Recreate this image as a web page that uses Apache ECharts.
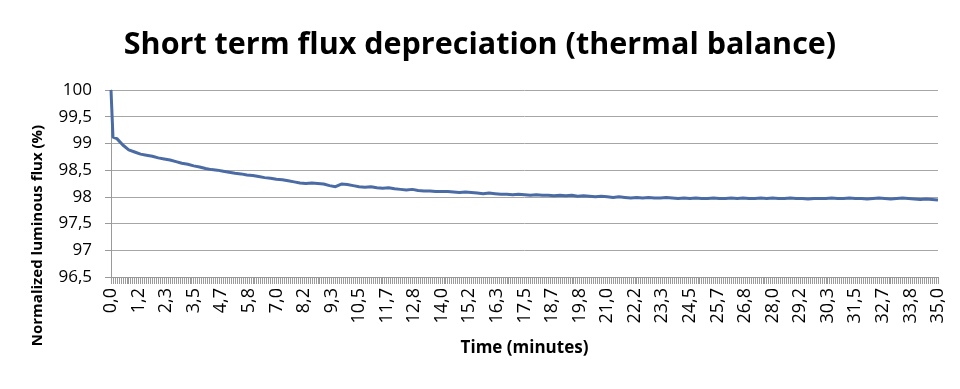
<!DOCTYPE html>
<html><head><meta charset="utf-8">
<script src="https://cdn.jsdelivr.net/npm/echarts@6/dist/echarts.min.js"></script>
<style>html,body{margin:0;padding:0;background:#fff}#c{width:960px;height:389px}</style>
</head><body><div id="c"></div>
<script>
// sample times in seconds: 0, 5, then every 15 s up to 2100 s (35 min)
const times = [0, 5];
for (let s = 15; s <= 2100; s += 15) times.push(s);

// normalized luminous flux (%)
const flux = [
  100.00, 99.12,
  99.09, 98.97, 98.88, 98.84,
  98.80, 98.78, 98.76, 98.73,
  98.71, 98.69, 98.66, 98.63,
  98.61, 98.58, 98.56, 98.53,
  98.51, 98.50, 98.48, 98.46,
  98.44, 98.43, 98.41, 98.40,
  98.38, 98.36, 98.35, 98.33,
  98.32, 98.30, 98.28, 98.26,
  98.25, 98.26, 98.25, 98.24,
  98.21, 98.19, 98.24, 98.23,
  98.21, 98.19, 98.18, 98.19,
  98.17, 98.16, 98.17, 98.15,
  98.14, 98.13, 98.14, 98.12,
  98.11, 98.11, 98.10, 98.10,
  98.10, 98.09, 98.08, 98.09,
  98.08, 98.07, 98.06, 98.07,
  98.06, 98.05, 98.05, 98.04,
  98.05, 98.04, 98.03, 98.04,
  98.03, 98.03, 98.02, 98.03,
  98.02, 98.03, 98.01, 98.02,
  98.01, 98.00, 98.01, 98.00,
  97.99, 98.00, 97.99, 97.98,
  97.99, 97.98, 97.99, 97.98,
  97.98, 97.99, 97.98, 97.97,
  97.98, 97.97, 97.98, 97.97,
  97.97, 97.98, 97.97, 97.97,
  97.98, 97.97, 97.98, 97.97,
  97.97, 97.98, 97.97, 97.98,
  97.97, 97.97, 97.98, 97.97,
  97.97, 97.96, 97.97, 97.97,
  97.97, 97.98, 97.97, 97.97,
  97.98, 97.97, 97.97, 97.96,
  97.97, 97.98, 97.97, 97.96,
  97.97, 97.98, 97.97, 97.96,
  97.95, 97.96, 97.95, 97.94
];

const yTicks = [96.5, 97, 97.5, 98, 98.5, 99, 99.5, 100];

const FONT = '"Open Sans", sans-serif';
const chart = echarts.init(document.getElementById('c'), null, {renderer: 'canvas'});
chart.setOption({
  animation: false,
  backgroundColor: '#fff',
  title: {
    text: 'Short term flux depreciation (thermal balance)',
    left: 'center', top: 25,
    textStyle: {fontFamily: FONT, fontWeight: 'bold', fontSize: 30.5, color: '#000'}
  },
  grid: {left: 111, right: 22, top: 90, bottom: 112, containLabel: false},
  xAxis: {
    type: 'value', min: 0, max: 2100, interval: 70,
    name: 'Time (minutes)', nameLocation: 'middle', nameGap: 63,
    nameTextStyle: {fontFamily: FONT, fontWeight: 'bold', fontSize: 17, color: '#000'},
    axisLine: {show: true, lineStyle: {color: '#9a9a9a', width: 1}},
    axisTick: {show: true, length: 7, lineStyle: {color: '#9a9a9a'}},
    minorTick: {show: true, splitNumber: 14, length: 7, lineStyle: {color: '#9a9a9a'}},
    splitLine: {show: false},
    axisLabel: {
      rotate: 90, margin: 11, fontFamily: FONT, fontSize: 18, color: '#000',
      formatter: v => (v / 60).toFixed(1).replace('.', ',')
    }
  },
  yAxis: {
    type: 'value', min: yTicks[0], max: yTicks[yTicks.length - 1], interval: 0.5,
    name: 'Normalized luminous flux (%)', nameLocation: 'middle', nameGap: 66,
    nameTextStyle: {fontFamily: FONT, fontWeight: 'bold', fontSize: 15, color: '#000', padding: [0, 104, 0, 0]},
    axisLine: {show: true, lineStyle: {color: '#9a9a9a', width: 1}},
    axisTick: {show: true, length: 6, lineStyle: {color: '#9a9a9a'}},
    splitLine: {show: true, lineStyle: {color: '#a6a6a6', width: 1}},
    axisLabel: {
      margin: 19, fontFamily: FONT, fontSize: 17, color: '#000',
      formatter: v => String(v).replace('.', ',')
    }
  },
  series: [{
    type: 'line', showSymbol: false, symbol: 'none',
    data: times.map((t, i) => [t, flux[i]]),
    lineStyle: {color: '#4a6ba3', width: 3},
    itemStyle: {color: '#4a6ba3'}
  }]
});
</script></body></html>
